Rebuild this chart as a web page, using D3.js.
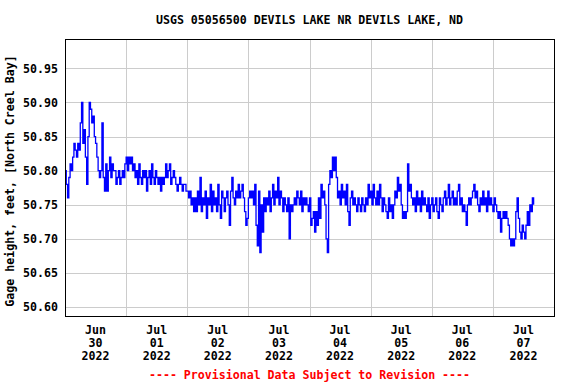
<!DOCTYPE html>
<html>
<head>
<meta charset="utf-8">
<script src="https://cdn.jsdelivr.net/npm/d3@7"></script>
<style>
  html, body { margin: 0; padding: 0; background: #fff; }
  svg { display: block; }
  text { font-family: "DejaVu Sans Mono", "Liberation Mono", monospace; font-weight: bold; }
</style>
</head>
<body>
<svg id="chart" width="576" height="384"></svg>
<script>
// ---------- DATA ----------
const title = "USGS 05056500 DEVILS LAKE NR DEVILS LAKE, ND";
const yLabel = "Gage height, feet, [North Creel Bay]";
const footer = "---- Provisional Data Subject to Revision ----";
const startTime = "2022-06-30T00:00:00Z";
const stepMinutes = 30;
// gage height in hundredths of a foot above 50.00 ft, every 30 minutes from start
const gageHundredths = [
  80,78,76,79,81,80,82,84,
  83,82,84,83,87,90,84,86,
  82,78,85,90,89,87,88,85,
  84,82,80,79,80,87,79,77,
  81,77,80,82,79,81,80,
  80,78,79,80,78,79,80,79,
  81,82,80,82,81,82,80,81,
  79,80,78,81,79,78,80,79,
  80,77,79,80,78,81,79,78,
  80,79,78,79,77,79,78,79,
  81,79,80,81,78,79,80,
  79,78,77,78,79,78,77,78,
  78,77,77,76,77,75,76,74,
  76,74,77,75,79,74,76,75,
  77,73,76,75,78,74,77,75,
  76,74,78,75,73,77,76,74,
  76,77,75,72,77,79,76,
  75,77,76,78,76,77,78,76,
  74,72,73,76,77,76,77,75,
  78,72,69,77,68,75,71,76,
  74,76,75,77,74,76,78,75,
  77,76,79,75,77,76,74,76,
  75,74,76,70,75,74,75,
  76,75,77,76,75,77,74,76,
  75,76,75,74,76,72,73,74,
  71,74,72,76,73,78,76,77,
  75,70,68,78,80,79,82,80,
  82,79,76,77,75,78,76,77,
  75,78,74,72,76,77,75,
  76,75,74,76,75,74,76,75,
  74,76,75,78,76,77,75,78,
  76,75,77,75,78,76,74,76,
  75,74,73,76,74,75,73,75,
  77,76,79,77,78,75,73,74,
  73,74,81,77,78,76,75,
  76,74,77,75,76,74,77,75,
  76,75,74,76,73,75,76,74,
  75,76,74,73,76,75,74,76,
  77,75,76,78,75,76,77,75,
  76,75,77,78,75,76,74,75,
  74,72,75,76,75,76,77,
  78,76,77,75,74,76,75,77,
  75,76,74,77,75,76,75,74,
  76,75,74,73,74,71,73,74,
  73,74,73,72,70,69,70,69,
  70,74,76,73,71,70,72,71,
  70,72,74,72,75,74,76,75
];
const yTicks = [50.60, 50.65, 50.70, 50.75, 50.80, 50.85, 50.90, 50.95];
const dayTicks = ["2022-06-30","2022-07-01","2022-07-02","2022-07-03","2022-07-04","2022-07-05","2022-07-06","2022-07-07"];
const tickMonth = ["Jun","Jul","Jul","Jul","Jul","Jul","Jul","Jul"];
const tickDay = ["30","01","02","03","04","05","06","07"];
const tickYear = ["2022","2022","2022","2022","2022","2022","2022","2022"];
const xDomain = ["2022-06-30T00:00:00Z", "2022-07-08T00:00:00Z"];
const yDomain = [50.587, 50.993];

// ---------- LAYOUT ----------
const L = 65, R = 554, T = 39, B = 316;
const svg = d3.select("#chart");

const x = d3.scaleUtc().domain(xDomain.map(d => new Date(d))).range([L, R]);
const y = d3.scaleLinear().domain(yDomain).range([B, T]);

const t0 = new Date(startTime).getTime();
const data = gageHundredths.map((v, i) => ({
  t: new Date(t0 + i * stepMinutes * 60000),
  v: 50 + v / 100
}));

// grid lines
const dayDates = dayTicks.map(d => new Date(d + "T00:00:00Z"));
const gridX = dayDates.slice(1);
svg.append("g")
  .attr("transform", `translate(0,${B})`)
  .call(d3.axisBottom(x).tickValues(gridX).tickSize(-(B - T)).tickFormat(""))
  .call(g => g.select(".domain").remove())
  .call(g => g.selectAll("line").attr("stroke", "#cccccc").attr("stroke-width", 1).attr("shape-rendering", "crispEdges"));

svg.append("g")
  .attr("transform", `translate(${L},0)`)
  .call(d3.axisLeft(y).tickValues(yTicks).tickSize(-(R - L)).tickFormat(""))
  .call(g => g.select(".domain").remove())
  .call(g => g.selectAll("line").attr("stroke", "#cccccc").attr("stroke-width", 1).attr("shape-rendering", "crispEdges"));

// y tick labels
svg.append("g")
  .attr("transform", `translate(${L},0)`)
  .call(d3.axisLeft(y).tickValues(yTicks).tickSize(0).tickPadding(7).tickFormat(d3.format(".2f")))
  .call(g => g.select(".domain").remove())
  .call(g => g.selectAll("text")
    .attr("fill", "#000")
    .style("font-size", "11.6px")
    .style("font-family", "'DejaVu Sans Mono', monospace")
    .style("font-weight", "bold"));

// data line
const line = d3.line()
  .x(d => x(d.t))
  .y(d => y(d.v))
  .curve(d3.curveStepAfter);

svg.append("path")
  .datum(data)
  .attr("fill", "none")
  .attr("stroke", "#0000ff")
  .attr("stroke-width", 1.3)
  .attr("d", line);

// frame
svg.append("rect")
  .attr("x", L).attr("y", T)
  .attr("width", R - L).attr("height", B - T)
  .attr("fill", "none")
  .attr("stroke", "#000")
  .attr("stroke-width", 1)
  .attr("shape-rendering", "crispEdges");

// x tick labels (centered at noon)
const xl = svg.append("g");
dayDates.forEach((d, i) => {
  const noon = new Date(d.getTime() + 12 * 3600000);
  const cx = x(noon);
  const tx = xl.append("text")
    .attr("x", cx)
    .attr("text-anchor", "middle")
    .style("font-size", "11.6px")
    .attr("fill", "#000");
  [tickMonth[i], tickDay[i], tickYear[i]].forEach((s, k) => {
    tx.append("tspan").attr("x", cx).attr("y", 334 + k * 13).text(s);
  });
});

// title
svg.append("text")
  .attr("x", (L + R) / 2)
  .attr("y", 24)
  .attr("text-anchor", "middle")
  .style("font-size", "11.6px")
  .attr("fill", "#000")
  .text(title);

// y axis title
svg.append("text")
  .attr("transform", `translate(14,${181}) rotate(-90)`)
  .attr("text-anchor", "middle")
  .style("font-size", "11.6px")
  .attr("fill", "#000")
  .text(yLabel);

// footer
svg.append("text")
  .attr("x", (L + R) / 2)
  .attr("y", 379)
  .attr("text-anchor", "middle")
  .style("font-size", "11.6px")
  .attr("fill", "#ff0000")
  .text(footer);
</script>
</body>
</html>
